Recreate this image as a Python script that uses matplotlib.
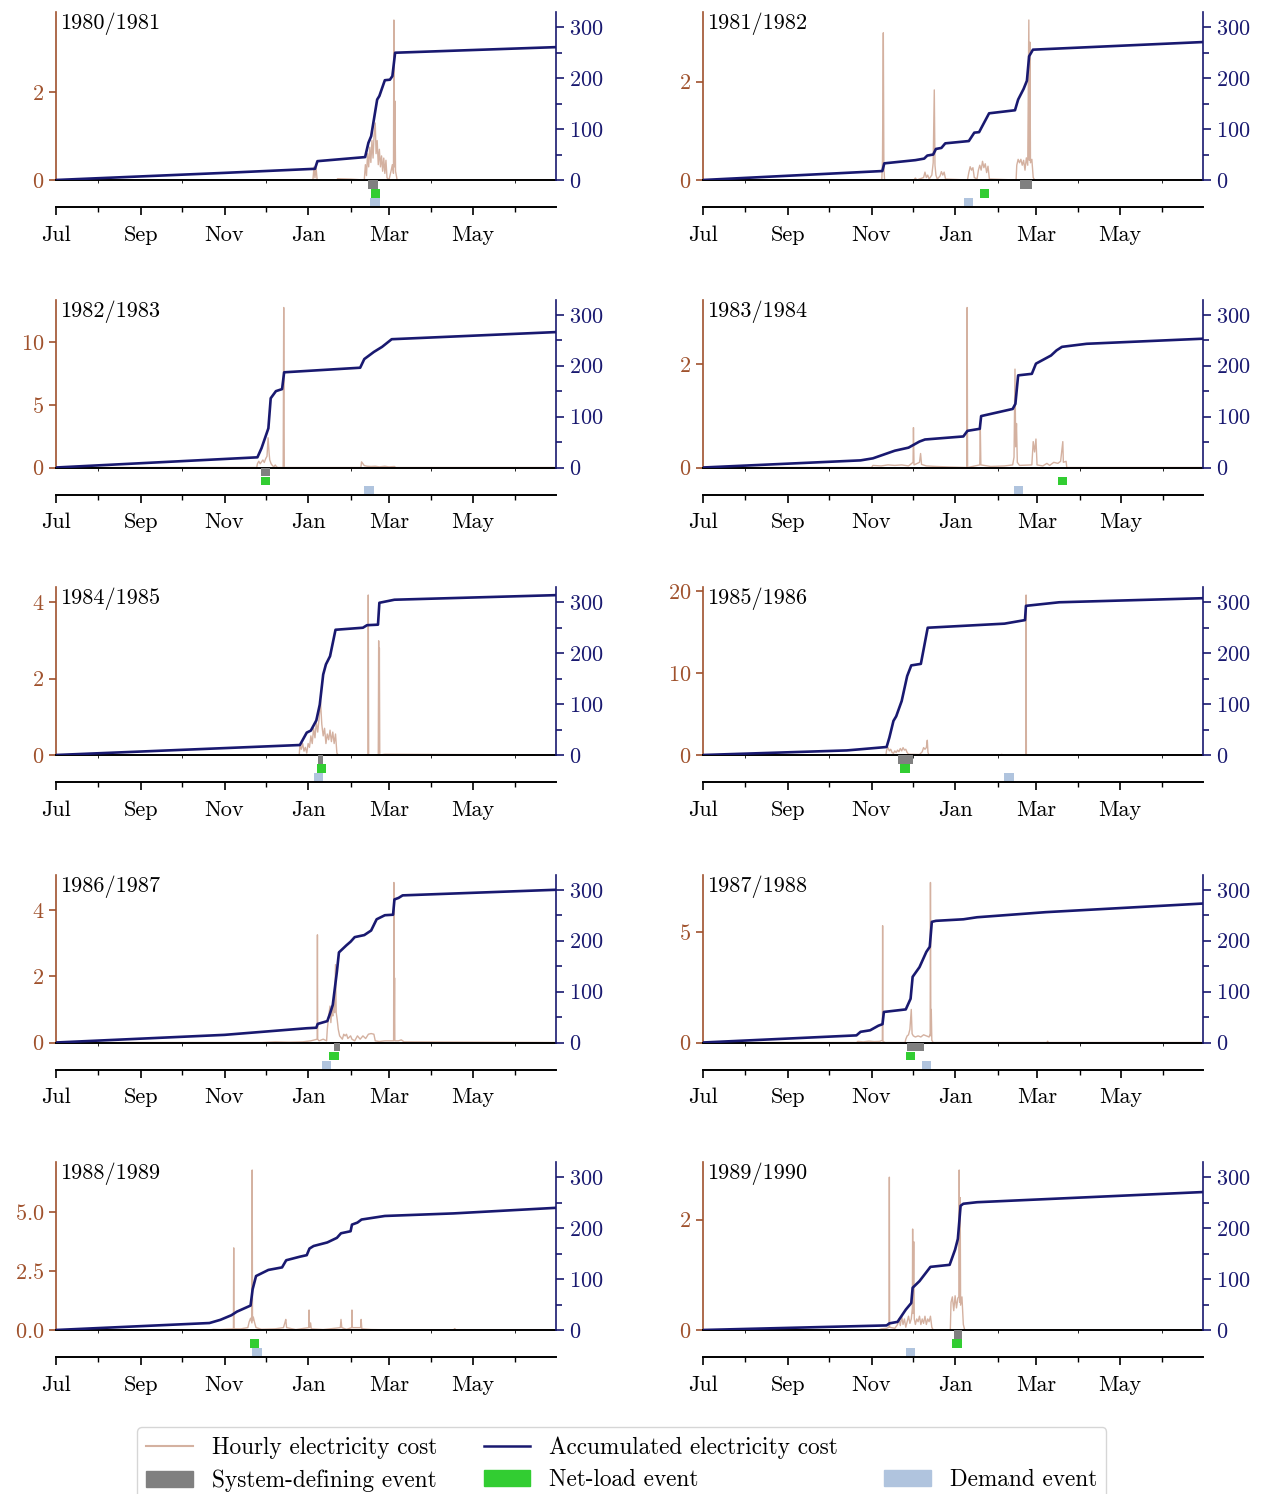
import matplotlib
matplotlib.use("Agg")
import matplotlib.pyplot as plt
import matplotlib.dates as mdates
import matplotlib.ticker as mticker
from matplotlib.lines import Line2D
from matplotlib.patches import Patch
import numpy as np
import pandas as pd

plt.rcParams["font.family"] = ["cmr10", "DejaVu Serif"]
plt.rcParams["mathtext.fontset"] = "cm"
plt.rcParams["axes.formatter.use_mathtext"] = True
plt.rcParams["axes.unicode_minus"] = False
plt.rcParams["font.size"] = 16

# seasons (July -> June), x values are days after 1 July
SEASONS = ["1980/1981", "1981/1982", "1982/1983", "1983/1984", "1984/1985",
           "1985/1986", "1986/1987", "1987/1988", "1988/1989", "1989/1990"]

# hourly electricity cost, (day, cost)
HOURLY_1980 = [(0, 0), (187.5, 0), (188.3, 0.3), (189, 0.05), (189.8, 0.28), (190.6, 0), (205, 0), (205.5, 0.03),
               (215, 0.02), (225, 0), (225.8, 0.35), (226.6, 0.1), (227.4, 0.6), (228.2, 0.3), (229, 0.75),
               (229.8, 0.4), (230.6, 0.9), (231.4, 0.5), (232.2, 1.05), (233, 1.3), (233.6, 0.6), (234.4, 0.9),
               (235.2, 0.35), (236, 0.7), (236.8, 0.3), (237.6, 0.55), (238.4, 0.2), (239.2, 0.5), (240, 0.15),
               (240.8, 0.45), (241.6, 0.05), (243, 0), (244.5, 0.2), (245.5, 0.35), (246.3, 0.15), (246.6, 3.65),
               (246.9, 0.3), (247.4, 1.8), (247.8, 0.2), (249, 0), (365, 0)]
HOURLY_1981 = [(0, 0), (130.5, 0), (131, 0.4), (131.6, 2.99), (132, 0.3), (132.5, 0), (154, 0), (155, 0.04), (156, 0),
               (161, 0.05), (162, 0.16), (163, 0.05), (164, 0.1), (165, 0.02), (167, 0.1), (168, 0.35), (168.8, 1.83),
               (169.3, 0.3), (170, 0.1), (171, 0.02), (173, 0.08), (174, 0.17), (175, 0.1), (176, 0.16), (177, 0.02),
               (193, 0), (194, 0.15), (195, 0.27), (196, 0.2), (197, 0.25), (198, 0.05), (200, 0.02), (201, 0.2),
               (202, 0.3), (203, 0.2), (204, 0.38), (205, 0.25), (206, 0.33), (207, 0.15), (208, 0.28), (209, 0.02),
               (228.5, 0), (229, 0.3), (230, 0.42), (231, 0.35), (232, 0.42), (233, 0.3), (234, 0.4), (235, 0.2),
               (236, 0.45), (237, 0.3), (237.8, 3.25), (238.2, 0.4), (238.6, 2.8), (239, 0.35), (240, 0.42),
               (241, 0.05), (242, 0), (365, 0)]
HOURLY_1982 = [(0, 0), (146.5, 0), (147, 0.3), (148, 0.5), (149, 0.3), (150, 0.45), (151, 0.6), (152, 0.4), (153, 0.7),
               (154, 0.9), (154.8, 2.37), (155.5, 1.2), (156, 0.6), (157, 0.3), (158, 0.15), (159, 0.05), (160, 0.2),
               (161, 0.05), (162, 0), (165.8, 0), (166.2, 12.76), (166.6, 0), (222.5, 0), (223, 0.45), (224, 0.3),
               (225, 0.15), (227, 0.1), (230, 0.08), (233, 0.1), (236, 0.05), (240, 0.1), (243, 0.05), (247, 0.08),
               (248, 0), (365, 0)]
HOURLY_1983 = [(0, 0), (123, 0), (124, 0.04), (130, 0.03), (135, 0.05), (140, 0.04), (145, 0.05), (150, 0.03),
               (153.3, 0.1), (153.6, 0.77), (154, 0.05), (158, 0.1), (158.8, 0.27), (159.5, 0.06), (163, 0.03),
               (170, 0.02), (180, 0.01), (192.5, 0), (192.8, 3.09), (193.1, 0), (202, 0.05), (202.4, 0.75),
               (202.8, 0.05), (210, 0.02), (220, 0.03), (226, 0.05), (227, 0.2), (227.7, 1.9), (228.2, 0.4),
               (228.8, 0.85), (229.4, 0.1), (231, 0.04), (240, 0.05), (241, 0.5), (242, 0.3), (243, 0.55),
               (243.8, 0.05), (248, 0.03), (251, 0.08), (253, 0.04), (256, 0.1), (259, 0.08), (261, 0.12),
               (262.6, 0.5), (263, 0.1), (265, 0.12), (265.5, 0), (365, 0)]
HOURLY_1984 = [(0, 0), (177.5, 0), (178, 0.25), (179, 0.15), (180, 0.3), (181, 0.1), (182, 0.2), (183, 0.05), (184, 0.3),
               (185, 0.2), (186, 0.5), (187, 0.3), (188, 0.7), (189, 0.45), (190, 0.85), (191, 0.6), (192, 0.95),
               (193, 1.42), (194, 0.8), (195, 0.5), (196, 0.7), (197, 0.3), (198, 0.55), (199, 0.4), (200, 0.65),
               (201, 0.35), (202, 0.6), (203, 0.3), (204, 0.55), (205, 0.05), (206, 0), (227.6, 0), (227.9, 4.19),
               (228.2, 0), (235.2, 0), (235.5, 2.99), (235.8, 0.1), (236, 2.8), (236.3, 0), (240, 0.02), (365, 0)]
HOURLY_1985 = [(0, 0), (133.5, 0), (134, 0.6), (135, 0.9), (136, 0.5), (137, 0.7), (138, 0.3), (139, 0.2), (140, 0.5),
               (141, 0.3), (142, 0.6), (143, 0.4), (144, 0.8), (145, 0.5), (146, 0.9), (147, 0.6), (148, 0.7),
               (149, 0.3), (150, 0.1), (158, 0.05), (160, 0.4), (161, 0.9), (162, 0.7), (163, 0.9), (163.7, 1.8),
               (164.2, 0.3), (165, 0), (217, 0), (218, 0.08), (219, 0), (235.6, 0), (235.8, 19.5), (236, 0), (365, 0)]
HOURLY_1986 = [(0, 0), (150, 0), (160, 0.02), (170, 0.01), (180, 0.02), (186, 0.05), (190.6, 0.1), (190.8, 3.25),
               (191, 0.1), (192, 0.05), (195, 0.1), (197.5, 0.05), (198, 0.4), (199, 0.8), (200, 1.1), (200.6, 0.6),
               (201.3, 1.0), (202, 0.8), (202.6, 1.3), (203.3, 0.9), (204, 2.35), (204.5, 0.9), (205.2, 0.7),
               (206, 0.4), (207, 0.2), (208, 0.15), (209, 0.1), (210, 0.25), (211, 0.2), (212, 0.25), (213, 0.12),
               (215, 0.2), (216, 0.1), (218, 0.05), (220, 0.2), (222, 0.1), (224, 0.2), (226, 0.12), (228, 0.25),
               (230, 0.27), (232, 0.25), (233, 0.05), (236, 0.03), (240, 0.05), (246.4, 0.05), (246.6, 4.83),
               (246.8, 0.1), (247.1, 1.95), (247.3, 0.05), (250, 0.05), (252, 0.08), (254, 0.02), (365, 0)]
HOURLY_1987 = [(0, 0), (112, 0), (113, 0.05), (117, 0.03), (121, 0.06), (125, 0.04), (129, 0.05), (130.9, 0.1),
               (131.1, 5.3), (131.3, 0.05), (133, 0), (147.5, 0), (148, 0.15), (149, 0.3), (150, 0.35), (151, 0.6),
               (152, 1.5), (152.6, 0.4), (153.5, 0.3), (155, 0.25), (157, 0.3), (159, 0.25), (161, 0.35), (163, 0.3),
               (165, 0.25), (165.8, 0.4), (166, 7.26), (166.3, 0.3), (166.6, 1.5), (167, 0.1), (168, 0), (251, 0),
               (251.5, 0.06), (252, 0), (365, 0)]
HOURLY_1988 = [(0, 0), (112, 0), (115, 0.03), (120, 0.02), (125, 0.04), (129.5, 0.05), (129.7, 3.49), (129.9, 0.05),
               (135, 0.05), (140, 0.1), (141, 0.35), (142, 0.5), (143, 0.3), (143.2, 6.8), (143.4, 0.4), (144, 0.55),
               (145, 0.3), (146, 0.1), (150, 0.03), (160, 0.05), (166, 0.1), (167, 0.3), (167.7, 0.45), (168.3, 0.1),
               (175, 0.02), (184.5, 0.1), (184.7, 0.85), (185, 0.1), (185.8, 0.3), (186.3, 0.05), (195, 0.02),
               (200, 0.05), (207.5, 0.1), (208, 0.45), (208.6, 0.1), (212, 0.03), (215.8, 0.1), (216, 0.85),
               (216.3, 0.1), (222.3, 0.1), (222.7, 0.45), (223.2, 0.05), (230, 0.02), (240, 0.01), (290, 0),
               (291, 0.06), (292, 0), (365, 0)]
HOURLY_1989 = [(0, 0), (128, 0), (130, 0.02), (134, 0.03), (135.8, 0.05), (136, 2.77), (136.2, 0.05), (140, 0.03),
               (142, 0.1), (143, 0.2), (144, 0.08), (145, 0.25), (146, 0.1), (147, 0.2), (148, 0.05), (149, 0.15),
               (150, 0.25), (151, 0.12), (152, 0.2), (152.8, 0.4), (153, 1.83), (153.3, 0.3), (153.8, 1.6),
               (154.2, 0.2), (155, 0.1), (156, 0.2), (157, 0.15), (158, 0.25), (159, 0.1), (160, 0.2), (161, 0.12),
               (162, 0.25), (163, 0.1), (164, 0.2), (165, 0.15), (166, 0.25), (167, 0.05), (168, 0), (180.5, 0),
               (181, 0.5), (182, 0.6), (183, 0.35), (184, 0.62), (185, 0.4), (186, 0.58), (186.8, 0.6), (187, 2.9),
               (187.3, 0.5), (187.7, 2.4), (188, 0.45), (189, 0.6), (190, 0.1), (191, 0), (365, 0)]

# accumulated electricity cost, (day, cost)
ACCUM_1980 = [(0, 0), (123, 14), (189, 22), (190.8, 37), (225.6, 45), (228, 73), (230, 86), (234.4, 158), (236, 165),
              (240, 196), (243.7, 197), (245.5, 204), (247.5, 250), (365, 261)]
ACCUM_1981 = [(0, 0), (130.9, 17.6), (132.3, 32.7), (155, 39), (161.4, 42), (163.7, 48), (168, 50), (170, 61),
              (174, 63), (176.8, 72), (194, 76.5), (198, 93), (201.5, 94), (208.8, 131), (227.7, 137), (230, 158),
              (234, 179), (236.4, 195), (238, 243), (240.8, 256), (365, 271)]
ACCUM_1982 = [(0, 0), (147, 20), (150, 38), (155, 77), (156.7, 136), (160.5, 150), (165, 154), (166.5, 187),
              (222, 196), (225, 213), (232, 227), (238, 237), (245, 252), (365, 266)]
ACCUM_1983 = [(0, 0), (115, 14), (124, 18), (140, 33), (150, 39), (158, 51), (162, 55), (190, 61), (193, 72),
              (202, 76), (203, 101), (226, 115), (228, 125), (230, 181), (240, 184), (243, 204), (254, 220),
              (258, 230), (262, 237), (280, 243), (365, 253)]
ACCUM_1984 = [(0, 0), (178, 19.6), (183, 44), (186, 48), (190, 68), (192.5, 99), (195, 158), (197, 178), (200, 194),
              (204, 246), (224, 250), (227, 255), (235, 256), (236, 299), (247, 305), (365, 314)]
ACCUM_1985 = [(0, 0), (105, 9), (134, 15.7), (136, 34), (139, 67), (141, 76), (145, 106), (149, 155), (152, 176),
              (159, 179), (164, 250), (220, 258), (235, 265), (235.7, 293), (260, 300), (365, 308)]
ACCUM_1986 = [(0, 0), (123, 15), (153, 21.5), (183, 28), (190, 29), (191, 36.5), (198, 42), (200, 57), (202, 74),
              (205, 139), (206.5, 177), (212, 191), (215, 198), (218, 207), (225, 211), (230, 220), (234, 242),
              (240, 250), (246, 251), (247, 281), (250, 284), (253, 289), (365, 300)]
ACCUM_1987 = [(0, 0), (112, 14), (115, 21), (122, 24), (128, 33), (131, 36), (132, 60), (148, 65), (151.5, 86),
              (153, 129), (158, 148), (163, 178), (165.5, 188), (167, 237), (170, 239), (190, 242), (200, 246),
              (225, 251), (250, 256), (365, 273)]
ACCUM_1988 = [(0, 0), (112, 13.7), (120, 20), (128, 29), (132, 36), (142, 48), (143.5, 80), (146, 106), (155, 118),
              (165, 123), (168, 137), (178, 144), (183, 147), (185, 160), (188, 165), (198, 172), (205, 181),
              (208, 190), (215, 194), (216, 207), (220, 211), (223, 217), (240, 224), (290, 229), (365, 240)]
ACCUM_1989 = [(0, 0), (134, 9), (136, 13), (142, 16), (148, 40), (152, 53), (153, 83), (158, 96), (166, 124),
              (180, 128), (184, 158), (186, 179), (188, 244), (190, 248), (200, 251), (365, 271)]

HOURLY = [HOURLY_1980, HOURLY_1981, HOURLY_1982, HOURLY_1983, HOURLY_1984,
          HOURLY_1985, HOURLY_1986, HOURLY_1987, HOURLY_1988, HOURLY_1989]
ACCUM = [ACCUM_1980, ACCUM_1981, ACCUM_1982, ACCUM_1983, ACCUM_1984,
         ACCUM_1985, ACCUM_1986, ACCUM_1987, ACCUM_1988, ACCUM_1989]

# events per season, (start day, end day)
SYSTEM_EVENTS = [[(227.6, 235.3)], [(231, 240)], [(149.6, 156)], [], [(191, 195)],
                 [(142, 153)], [(203, 207)], [(148.6, 161.4)], [], [(183.5, 189.3)]]
NETLOAD_EVENTS = [[(230, 236.4)], [(202, 208.8)], [(149.6, 156)], [(258.8, 265.5)], [(190.5, 197.3)],
                  [(144, 151)], [(199.3, 206.6)], [(148, 155)], [(141.4, 148.4)], [(182, 189)]]
DEMAND_EVENTS = [[(229.4, 236.7)], [(190.5, 197.4)], [(225, 232)], [(226.8, 233.5)], [(188, 195)],
                 [(220, 227)], [(194, 201)], [(159.6, 166.6)], [(143, 150.2)], [(148, 155)]]

C_HOURLY = "#A0522D"
C_ACCUM = "midnightblue"
C_SYS = "gray"
C_NET = "limegreen"
C_DEM = "lightsteelblue"

W, H = 1266, 1494
fig = plt.figure(figsize=(W / 100, H / 100), dpi=100)


def to_dates(base, days):
    return base + pd.to_timedelta(np.asarray(days, float), unit="D")


for i, season in enumerate(SEASONS):
    row, col = divmod(i, 2)
    x0 = [56, 703][col]
    yz = 180 + 287.5 * row
    ax = fig.add_axes([x0 / W, 1 - yz / H, 500 / W, 168 / H])
    ev = fig.add_axes([x0 / W, 1 - (yz + 27) / H, 500 / W, 27 / H], sharex=ax)
    ax2 = ax.twinx()

    base = pd.Timestamp(f"{season[:4]}-07-01")
    hd, hv = zip(*HOURLY[i])
    ad, av = zip(*ACCUM[i])
    ax.plot(to_dates(base, hd), hv, color=C_HOURLY, alpha=0.45, lw=1.0)
    ax2.plot(to_dates(base, ad), av, color=C_ACCUM, lw=1.9)

    ax.set_ylim(0, max(hv) * 1.05)
    ax2.set_ylim(0, 330)
    ax.set_xlim(base, base + pd.Timedelta(days=365) - pd.Timedelta(hours=2))

    ax.yaxis.set_major_locator(mticker.MaxNLocator(nbins=3, steps=[1, 2, 2.5, 5, 10]))
    ax2.yaxis.set_major_locator(mticker.MultipleLocator(100))
    ax2.yaxis.set_minor_locator(mticker.MultipleLocator(50))

    for s in ["top", "right"]:
        ax.spines[s].set_visible(False)
    for s in ["top", "left", "bottom"]:
        ax2.spines[s].set_visible(False)
    ax.spines["left"].set_color(C_HOURLY)
    ax.spines["left"].set_linewidth(1.2)
    ax.spines["bottom"].set_color("black")
    ax.spines["bottom"].set_linewidth(1.4)
    ax2.spines["right"].set_color(C_ACCUM)
    ax2.spines["right"].set_linewidth(1.2)
    ax.tick_params(axis="x", bottom=False, labelbottom=False)
    ax.tick_params(axis="y", colors=C_HOURLY, length=5, width=1.2)
    ax2.tick_params(axis="y", which="both", colors=C_ACCUM, width=1.2)
    ax2.tick_params(axis="y", which="major", length=6)
    ax2.tick_params(axis="y", which="minor", length=4)

    ax.text(0.008, 0.995, season, transform=ax.transAxes, ha="left", va="top")

    # event strip below the zero line
    for k, (events, color) in enumerate([(DEMAND_EVENTS[i], C_DEM), (NETLOAD_EVENTS[i], C_NET),
                                         (SYSTEM_EVENTS[i], C_SYS)]):
        spans = [(mdates.date2num(base + pd.Timedelta(days=s)), e - s) for s, e in events]
        ev.broken_barh(spans, (k + 0.05, 0.9), facecolors=color)
    ev.set_ylim(0, 3)
    ev.patch.set_visible(False)
    for s in ["top", "left", "right"]:
        ev.spines[s].set_visible(False)
    ev.spines["bottom"].set_linewidth(1.4)
    ev.set_yticks([])
    ev.xaxis.set_major_locator(mdates.MonthLocator(bymonth=[7, 9, 11, 1, 3, 5]))
    ev.xaxis.set_minor_locator(mdates.MonthLocator())
    ev.xaxis.set_major_formatter(mdates.DateFormatter("%b"))
    ev.tick_params(axis="x", which="major", length=6, width=1.2, pad=7)
    ev.tick_params(axis="x", which="minor", length=3.5, width=1.0)

handles = [Line2D([], [], color=C_HOURLY, alpha=0.45, lw=1.5),
           Patch(color=C_SYS),
           Line2D([], [], color=C_ACCUM, lw=1.8),
           Patch(color=C_NET),
           Line2D([], [], alpha=0),
           Patch(color=C_DEM)]
labels = ["Hourly electricity cost", "System-defining event", "Accumulated electricity cost",
          "Net-load event", " ", "Demand event"]
fig.legend(handles, labels, ncol=3, loc="upper center", bbox_to_anchor=(0.491, 1 - 1427 / H),
           fontsize=16.8, borderaxespad=0, labelspacing=0.45)

fig.savefig("out.png", dpi=100)
